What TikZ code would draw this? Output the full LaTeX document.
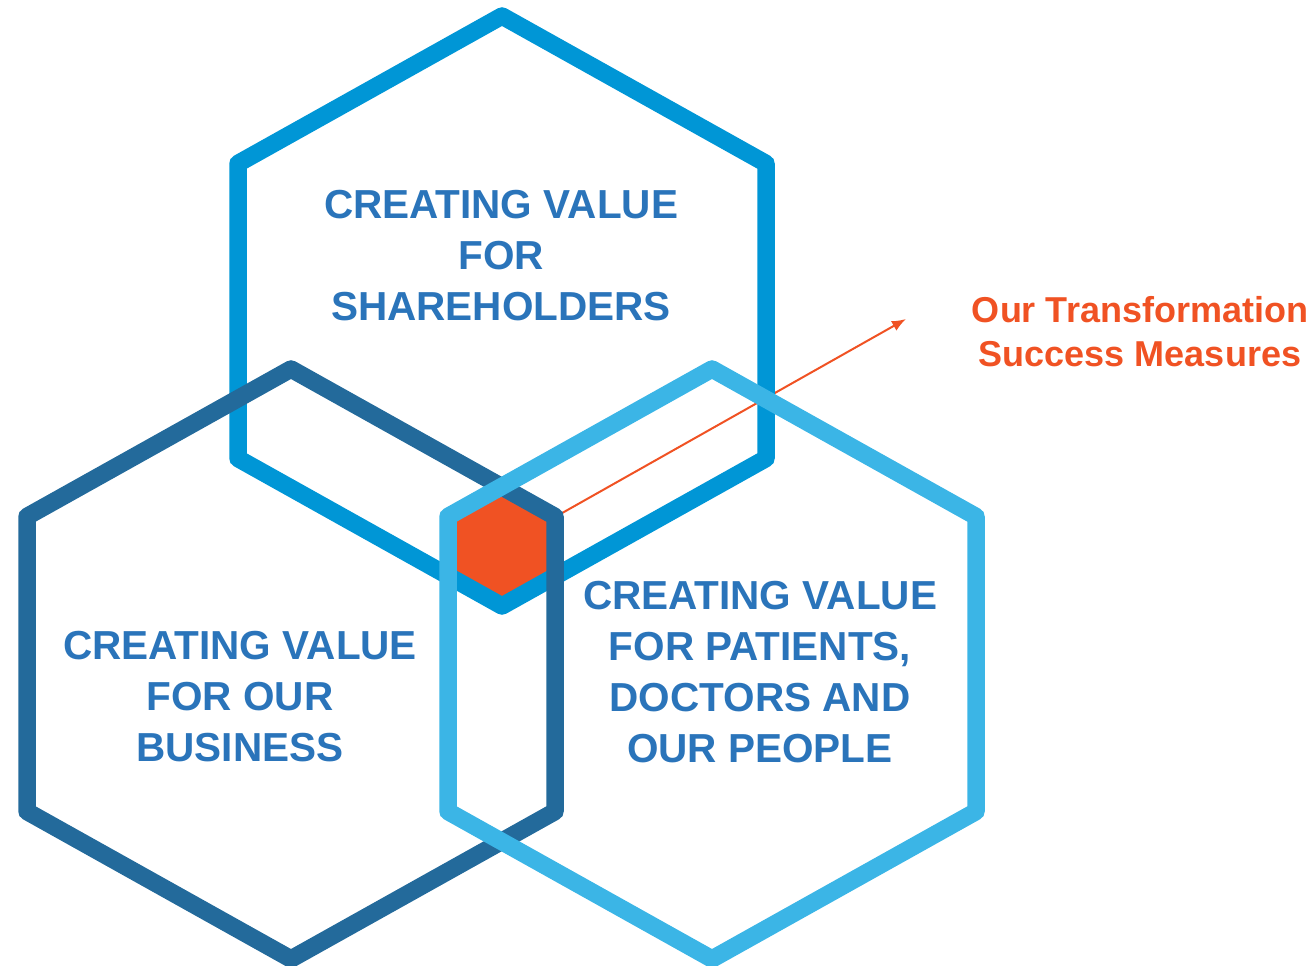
\documentclass[tikz,border=0pt]{standalone}
\usepackage{fontspec}
\setmainfont{Liberation Sans}
\usetikzlibrary{arrows.meta}
\definecolor{midblue}{RGB}{0,150,214}
\definecolor{darkblue}{RGB}{35,106,155}
\definecolor{lightblue}{RGB}{59,181,230}
\definecolor{orng}{RGB}{240,82,35}
\definecolor{txtblue}{RGB}{42,116,186}
\newcommand\hexshape{(-264,-147.5) -- (0,-295) -- (264,-147.5) -- (264,147.5) -- (0,295) -- (-264,147.5) -- cycle}
\tikzset{
  hexline/.style={line width=17.5pt, line join=round},
  hextext/.style={align=center, inner sep=0pt, text=txtblue,
    font=\fontsize{40.5}{51}\selectfont\bfseries},
  measuretext/.style={align=center, inner sep=0pt, text=orng,
    font=\fontsize{36}{44}\selectfont\bfseries},
}
\begin{document}
\begin{tikzpicture}[x=1pt,y=-1pt]
\useasboundingbox (0,0) rectangle (1314,966);
% orange intersection
\begin{scope}
  \clip[shift={(502,311)}] \hexshape;
  \clip[shift={(291,664)}] \hexshape;
  \fill[orng, shift={(712,664)}] \hexshape;
\end{scope}
% arrow
\coordinate (start) at (548,521);
\node[measuretext] (measures) at (1140,332) {Our Transformation\\Success Measures};
\coordinate (tip) at (906,319);
\draw[orng, line width=2pt, -{Latex[length=14pt,width=11pt]}] (start) -- (tip);
% hexagons
\draw[hexline, midblue, shift={(502,311)}] \hexshape;
\draw[hexline, darkblue, shift={(291,664)}] \hexshape;
\draw[hexline, lightblue, shift={(712,664)}] \hexshape;
% texts
\node[hextext] (share) at (501,256) {CREATING VALUE\\FOR\\SHAREHOLDERS};
\node[hextext] (business) at (240,697) {CREATING VALUE\\FOR OUR\\BUSINESS};
\node[hextext] (patients) at (760,672) {CREATING VALUE\\FOR PATIENTS,\\DOCTORS AND\\OUR PEOPLE};
\end{tikzpicture}
\end{document}
